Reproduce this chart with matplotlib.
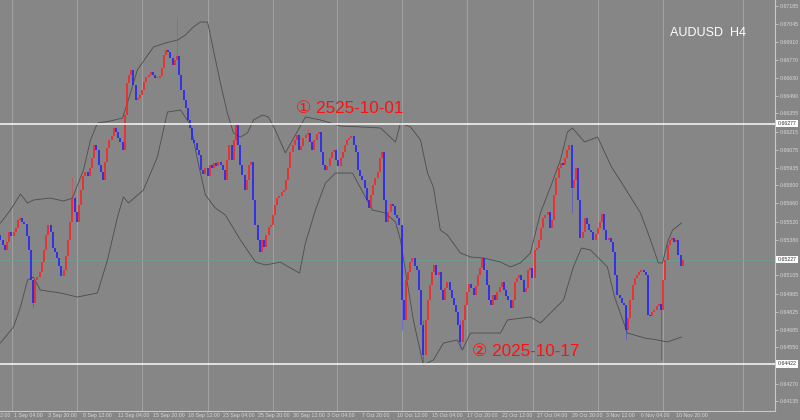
import matplotlib
matplotlib.use("Agg")
import matplotlib.pyplot as plt
import matplotlib.transforms as mtransforms
import numpy as np

# ---------------- data ----------------
symbol_label = "AUDUSD  H4"

closes = [
    0.65378, 0.65340, 0.65301, 0.65363, 0.65440, 0.65409, 0.65440, 0.65471, 0.65533, 0.65548,
    0.65517, 0.65502, 0.65409, 0.65301, 0.65069, 0.64892, 0.65069, 0.65093, 0.65131, 0.65208,
    0.65301, 0.65417, 0.65494, 0.65440, 0.65316, 0.65286, 0.65239, 0.65177, 0.65100, 0.65147,
    0.65255, 0.65378, 0.65517, 0.65702, 0.65594, 0.65517, 0.65648, 0.65764, 0.65872, 0.65903,
    0.65872, 0.65934, 0.66011, 0.66112, 0.66073, 0.65957, 0.65903, 0.65841, 0.65980, 0.66088,
    0.66150, 0.66181, 0.66243, 0.66212, 0.66166, 0.66135, 0.66073, 0.66343, 0.66590, 0.66652,
    0.66691, 0.66575, 0.66459, 0.66474, 0.66498, 0.66536, 0.66598, 0.66637, 0.66652, 0.66675,
    0.66652, 0.66629, 0.66629, 0.66644, 0.66706, 0.66806, 0.66845, 0.66830, 0.66783, 0.66729,
    0.66768, 0.66799, 0.66652, 0.66536, 0.66459, 0.66397, 0.66305, 0.66243, 0.66150, 0.66127,
    0.66073, 0.66034, 0.65919, 0.65888, 0.65934, 0.65872, 0.65957, 0.65934, 0.65973, 0.65950,
    0.65980, 0.65957, 0.65919, 0.65841, 0.65996, 0.66112, 0.65996, 0.66150, 0.66266, 0.66112,
    0.65957, 0.65880, 0.65764, 0.65841, 0.65957, 0.65980, 0.65687, 0.65494, 0.65378, 0.65286,
    0.65378, 0.65324, 0.65417, 0.65479, 0.65494, 0.65571, 0.65648, 0.65702, 0.65718, 0.65749,
    0.65764, 0.65841, 0.65934, 0.66058, 0.66112, 0.66150, 0.66189, 0.66073, 0.66104, 0.66166,
    0.66189, 0.66204, 0.66135, 0.66073, 0.66150, 0.66196, 0.66212, 0.66058, 0.65957, 0.65919,
    0.65950, 0.66011, 0.66058, 0.66073, 0.65996, 0.65950, 0.66011, 0.66058, 0.66112, 0.66150,
    0.66166, 0.66181, 0.66112, 0.66058, 0.65919, 0.65872, 0.65841, 0.65780, 0.65687, 0.65625,
    0.65726, 0.65803, 0.65857, 0.65903, 0.66011, 0.66058, 0.65687, 0.65517, 0.65594, 0.65656,
    0.65641, 0.65571, 0.65548, 0.65494, 0.64915, 0.64761, 0.65069, 0.65131, 0.65208, 0.65239,
    0.65177, 0.65147, 0.64992, 0.64722, 0.64490, 0.64761, 0.64915, 0.65031, 0.65131, 0.65185,
    0.65108, 0.65131, 0.64992, 0.64915, 0.65008, 0.65054, 0.64992, 0.64930, 0.64876, 0.64822,
    0.64722, 0.64591, 0.64761, 0.64876, 0.64977, 0.65038, 0.65008, 0.64954, 0.65023, 0.65108,
    0.65162, 0.65239, 0.65147, 0.65031, 0.64915, 0.64876, 0.64954, 0.64915, 0.64977, 0.65015,
    0.65054, 0.64992, 0.64946, 0.64915, 0.64853, 0.64915, 0.65054, 0.65085, 0.65108, 0.65069,
    0.64977, 0.65008, 0.65147, 0.65162, 0.65085, 0.65301, 0.65316, 0.65378, 0.65471, 0.65548,
    0.65571, 0.65594, 0.65471, 0.65533, 0.65726, 0.65857, 0.65934, 0.65973, 0.65957, 0.66011,
    0.66073, 0.66112, 0.65780, 0.65841, 0.65934, 0.65687, 0.65394, 0.65440, 0.65548, 0.65502,
    0.65455, 0.65440, 0.65378, 0.65424, 0.65471, 0.65517, 0.65579, 0.65455, 0.65378, 0.65394,
    0.65363, 0.65286, 0.65108, 0.64954, 0.64930, 0.64892, 0.64876, 0.64683, 0.64776, 0.64915,
    0.65031, 0.65085, 0.65108, 0.65131, 0.65147, 0.65131, 0.65108, 0.64799, 0.64791, 0.64822,
    0.64838, 0.64869, 0.64884, 0.64838, 0.65069, 0.65224, 0.65340, 0.65378, 0.65394, 0.65363,
    0.65378, 0.65263, 0.65177, 0.65227,
]
first_open = 0.65417

# notable wicks (bar index, high, low)
wick_bars = [15, 33, 81, 108, 141, 184, 194, 211, 262, 287, 303]
wick_highs = [0.65069, 0.65865, 0.67100, 0.66281, 0.66243, 0.65494, 0.64761, 0.64761, 0.65780, 0.64876, 0.64884]
wick_lows = [0.64861, 0.65594, 0.66768, 0.66112, 0.66135, 0.64683, 0.64436, 0.64545, 0.65587, 0.64606, 0.64452]

# Bollinger bands (bar position, price)
upper_bars = [0.0, 4.6, 9.2, 12.4, 15.1, 22.9, 28.9, 33.0, 38.1, 41.3, 44.5, 50.5, 56.0, 58.7, 62.8,
              70.2, 75.7, 81.2, 84.9, 88.5, 91.7, 95.0, 97.7, 100.9, 104.1, 106.9, 110.1, 113.3,
              116.1, 120.2, 122.9, 126.1, 130.7, 135.3, 139.9, 146.8, 156.0, 165.1, 174.3, 181.2,
              183.5, 188.1, 192.7, 195.9, 198.6, 201.8, 205.0, 211.0, 215.6, 221.6, 229.4, 233.9,
              238.5, 243.1, 247.7, 252.3, 256.9, 260.1, 262.4, 267.9, 273.9, 280.3, 286.2, 293.6,
              298.2, 301.8, 303.7, 306.0, 308.3, 312.4]
upper_vals = [0.65509, 0.65610, 0.65733, 0.65664, 0.65687, 0.65702, 0.65679, 0.65702, 0.65919, 0.66150,
              0.66281, 0.66297, 0.66320, 0.66459, 0.66691, 0.66868, 0.66899, 0.66922, 0.66961, 0.67023,
              0.67061, 0.67061, 0.66845, 0.66590, 0.66359, 0.66204, 0.66173, 0.66204, 0.66305, 0.66343,
              0.66328, 0.66227, 0.66050, 0.66189, 0.66328, 0.66305, 0.66258, 0.66251, 0.66243, 0.66135,
              0.66281, 0.66251, 0.66150, 0.65895, 0.65787, 0.65455, 0.65417, 0.65278, 0.65247, 0.65239,
              0.65208, 0.65170, 0.65201, 0.65278, 0.65587, 0.65787, 0.65996, 0.66212, 0.66243, 0.66135,
              0.66173, 0.65942, 0.65787, 0.65587, 0.65378, 0.65201, 0.65201, 0.65363, 0.65455, 0.65509]
lower_bars = [0.0, 6.0, 9.2, 12.4, 15.1, 18.3, 27.5, 35.3, 44.5, 49.1, 53.7, 56.4, 58.7, 65.6, 72.0,
              76.6, 82.6, 87.2, 90.4, 94.0, 98.6, 103.2, 110.1, 117.0, 121.6, 128.4, 133.0, 137.2,
              139.9, 144.5, 149.1, 153.7, 161.5, 170.6, 176.6, 181.2, 183.5, 189.4, 194.0, 198.6,
              203.2, 209.6, 211.9, 215.6, 229.4, 232.6, 243.1, 247.7, 252.3, 258.3, 262.8, 266.5,
              270.6, 273.9, 278.4, 281.7, 287.6, 295.4, 301.4, 306.0, 312.4]
lower_vals = [0.64583, 0.64707, 0.64861, 0.65069, 0.65093, 0.64992, 0.64969, 0.64938, 0.64969, 0.65224,
              0.65556, 0.65710, 0.65664, 0.65764, 0.66019, 0.66366, 0.66382, 0.66266, 0.65996, 0.65726,
              0.65625, 0.65571, 0.65378, 0.65208, 0.65185, 0.65208, 0.65162, 0.65123, 0.65355, 0.65610,
              0.65818, 0.65895, 0.65895, 0.65610, 0.65587, 0.65517, 0.65378, 0.64761, 0.64413, 0.64452,
              0.64583, 0.64606, 0.64529, 0.64660, 0.64660, 0.64761, 0.64784, 0.64737, 0.64815, 0.64915,
              0.65170, 0.65316, 0.65301, 0.65247, 0.65170, 0.64938, 0.64660, 0.64622, 0.64606, 0.64591,
              0.64629]

level_lines = [0.66277, 0.64422]
current_price = 0.65227

# visible price-scale labels (those hidden under the price boxes are left out)
price_ticks = [0.67185, 0.67045, 0.66910, 0.66770, 0.66630, 0.66490, 0.66355, 0.66215, 0.66075,
               0.65935, 0.65800, 0.65660, 0.65520, 0.65380, 0.65105, 0.64965, 0.64825,
               0.64685, 0.64550, 0.64270, 0.64135]

time_labels = ["27 Aug 12:00", "1 Sep 04:00", "3 Sep 20:00", "8 Sep 12:00", "11 Sep 04:00",
               "15 Sep 20:00", "18 Sep 12:00", "23 Sep 04:00", "25 Sep 20:00", "30 Sep 12:00",
               "3 Oct 04:00", "7 Oct 20:00", "10 Oct 12:00", "15 Oct 04:00", "17 Oct 20:00",
               "22 Oct 12:00", "27 Oct 04:00", "29 Oct 20:00", "3 Nov 12:00", "6 Nov 04:00",
               "10 Nov 20:00"]
time_label_bars = [-11, 5, 21, 37, 53, 69, 85, 101, 117, 133, 149, 165, 181, 197, 213, 229,
                   245, 261, 277, 293, 309]
grid_bars = [5.5, 35.3, 65.1, 95.0, 124.8, 154.6, 184.4, 214.2, 244.5, 274.3, 304.1, 340.4]

note1 = "① 2525-10-01"
note2 = "② 2025-10-17"

# ---------------- style ----------------
bg = "#878686"
small_font = ["Liberation Sans", "DejaVu Sans"]
W, H = 800, 420
fig = plt.figure(figsize=(W / 100, H / 100), dpi=100, facecolor=bg)
ax = fig.add_axes([0, 9 / H, 775 / W, 411 / H])
ax.set_facecolor(bg)
ax.set_xlim(-0.2, 355.3)
ax.set_ylim(0.64058, 0.67231)

for s in ["top", "left"]:
    ax.spines[s].set_visible(False)
for s in ["right", "bottom"]:
    ax.spines[s].set_color("#c8c8c8")
    ax.spines[s].set_linewidth(0.8)

# grid
for gb in grid_bars:
    ax.axvline(gb, color="#a2a2a2", lw=0.7, zorder=0)

# candles
closes_a = np.array(closes)
opens_a = np.concatenate([[first_open], closes_a[:-1]])
xs = np.arange(len(closes_a))
up = closes_a >= opens_a
body_lo = np.minimum(opens_a, closes_a)
body_hi = np.maximum(opens_a, closes_a)
body_hi = np.where(body_hi - body_lo < 0.00004, body_lo + 0.00004, body_hi)
ax.vlines(np.array(wick_bars), wick_lows, wick_highs,
          colors=["#ff3030" if up[b] else "#3030ff" for b in wick_bars], lw=0.5, alpha=0.6, zorder=2)
ax.vlines(xs[up], body_lo[up], body_hi[up], colors="#ff1e1e", lw=1.15, zorder=3)
ax.vlines(xs[~up], body_lo[~up], body_hi[~up], colors="#1e1eff", lw=1.15, zorder=3)

# Bollinger bands
ax.plot(upper_bars, upper_vals, color="#4c4c4c", lw=0.6, zorder=2)
ax.plot(lower_bars, lower_vals, color="#4c4c4c", lw=0.6, zorder=2)

# horizontal lines
for lv in level_lines:
    ax.axhline(lv, color="#f2f2f2", lw=1.2, zorder=4)
ax.axhline(current_price, color="#62a596", lw=0.6, alpha=0.8, zorder=1)

# price axis
ax.yaxis.tick_right()
ax.set_yticks(price_ticks)
ax.set_yticklabels([f"{p:.5f}" for p in price_ticks], family=small_font)
ax.tick_params(axis="y", colors="#d8d8d8", labelsize=3.8, length=2, width=0.5, pad=1.5)
ax.set_xticks([])

ytrans = mtransforms.blended_transform_factory(ax.transAxes, ax.transData)
for lv in level_lines + [current_price]:
    ax.text(1.003, lv, f"{lv:.5f}", transform=ytrans, fontsize=3.8, color="#333333",
            family=small_font, va="center", ha="left", clip_on=False, zorder=10,
            bbox=dict(boxstyle="square,pad=0.25", fc="white", ec="none"))

# time axis
xtrans = mtransforms.blended_transform_factory(ax.transData, ax.transAxes)
for lab, b in zip(time_labels, time_label_bars):
    ax.text(b + 1.0, -0.006, lab, transform=xtrans, fontsize=3.8, color="#d8d8d8",
            family=small_font, va="top", ha="left", clip_on=False)

# texts
ax.text(0.865, 0.92, symbol_label, transform=ax.transAxes, fontsize=9, color="white",
        family=small_font, ha="left", va="center")
ax.text(135.8, 0.66397, note1, fontsize=12.3, color="#ff1010",
        family=small_font, ha="left", va="center", zorder=6)
ax.text(216.5, 0.64521, note2, fontsize=12.3, color="#ff1010",
        family=small_font, ha="left", va="center", zorder=6)

fig.savefig("out.png", dpi=100, facecolor=bg)
